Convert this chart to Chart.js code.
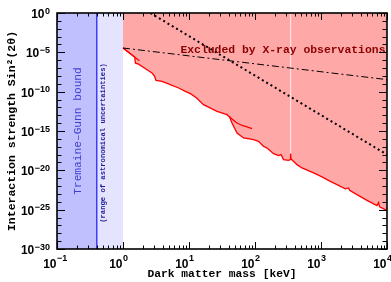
<!DOCTYPE html>
<html><head><meta charset="utf-8">
<script src="https://cdn.jsdelivr.net/npm/chart.js@4.4.0/dist/chart.umd.min.js"></script>
<style>html,body{margin:0;padding:0;background:#fff;}</style>
</head><body>
<canvas id="c" width="391" height="282" style="width:391px;height:282px;display:block"></canvas>
<script>
// ---- data ----
const boundaryMass = [1, 1.5, 1.547, 1.723, 2.31, 2.75, 3.01, 3.16, 3.90, 5.21, 6.96, 8.79, 10.5, 12.9, 16.6, 26.6, 37.6, 41.2, 44.8, 53.4, 67.2, 95.2, 113, 135, 152, 191, 228, 248, 271, 323, 340, 346, 352, 433, 515, 773, 1035, 1384, 1747, 2333, 2618, 2711, 3509, 4974, 7050, 7460, 7730, 9420, 10000];
const boundarySin = [3.57e-5, 2.56e-6, 4.18e-7, 3.12e-7, 6.24e-8, 2.38e-8, 8.8e-9, 2.73e-9, 2.04e-9, 7.76e-10, 2.95e-10, 1.09e-10, 5.57e-11, 1.73e-11, 2.23e-12, 3.14e-13, 1.20e-13, 6.1e-14, 1.05e-14, 5.65e-16, 1.31e-16, 7.96e-17, 4.84e-17, 1.12e-17, 7.0e-18, 1.32e-18, 7.4e-19, 9.9e-19, 2.29e-19, 1.86e-19, 2.29e-19, 1.32e-18, 2.81e-19, 5.3e-20, 2.02e-20, 4.68e-21, 1.45e-21, 4.0e-22, 1.52e-22, 4.33e-23, 5.8e-23, 2.88e-23, 8.2e-24, 1.54e-24, 3.27e-25, 7.9e-25, 2.24e-25, 1.01e-25, 7.6e-26];
const earlyMass = [1, 1.77];
const earlySin = [3.57e-5, 8.7e-7];
const lobeMass = [41.2, 53.4, 90.0];
const lobeSin = [6.1e-14, 1.05e-14, 2.0e-15];
const dashDotMass = [1, 10000];
const dashDotSin = [3.57e-5, 3.4e-9];
const dottedMass = [2.6, 10000];
const dottedSin = [1, 1e-18];
const tgBandMass = [0.1, 0.4];
const uncertBandMass = [0.4, 1];
const lineMass = [346, 346];
const lineSin = [1, 1.32e-18];

const xMajorTicks = [0.1, 1, 10, 100, 1000, 10000];
const xTickBase = ['10', '10', '10', '10', '10', '10'];
const xTickExp = ['\u22121', '0', '1', '2', '3', '4'];
const yMajorTicks = [1, 1e-5, 1e-10, 1e-15, 1e-20, 1e-25, 1e-30];
const yTickBase = ['10', '10', '10', '10', '10', '10', '10'];
const yTickExp = ['0', '\u22125', '\u221210', '\u221215', '\u221220', '\u221225', '\u221230'];

const excludedText = 'Excluded by X-ray observations';
const tgText = 'Tremaine\u2013Gunn bound';
const rangeText = '(range of astronomical uncertainties)';

// ---- helpers ----
const pts = (xs, ys) => xs.map((x, i) => ({x: x, y: ys[i]}));
const xAll = [];
for (let e = -1; e < 4; e++) for (let m = 1; m < 10; m++) xAll.push(m * Math.pow(10, e));
xAll.push(1e4);
const yAll = [];
for (let e = 0; e >= -30; e--) yAll.push(Math.pow(10, e));
const isMajor = (arr, v) => arr.some(a => Math.abs(Math.log10(a) - Math.log10(v)) < 1e-6);
const BASE_FONT = 'bold 12px "Liberation Sans"';
const EXP_FONT = 'bold 9px "Liberation Sans"';

const frameTicks = {
  id: 'frameTicks',
  afterDraw(chart) {
    const {ctx, chartArea: {left, right, top, bottom}, scales: {x, y}} = chart;
    ctx.save();
    // annotations
    ctx.fillStyle = '#8b0000';
    ctx.font = 'bold 11.4px "Liberation Mono"';
    ctx.textAlign = 'center'; ctx.textBaseline = 'middle';
    ctx.fillText(excludedText, x.getPixelForValue(265), y.getPixelForValue(2.2e-5));
    ctx.save();
    ctx.translate(x.getPixelForValue(0.21), y.getPixelForValue(1e-15));
    ctx.rotate(-Math.PI / 2);
    ctx.fillStyle = '#4040d0';
    ctx.font = '11.2px "Liberation Mono"';
    ctx.fillText(tgText, 0, 0);
    ctx.restore();
    ctx.save();
    ctx.translate(x.getPixelForValue(0.5), y.getPixelForValue(3e-17));
    ctx.rotate(-Math.PI / 2);
    ctx.fillStyle = '#1c1c98';
    ctx.font = 'bold 7.2px "Liberation Mono"';
    ctx.fillText(rangeText, 0, 0);
    ctx.restore();
    // tick labels (10 with superscript exponent)
    ctx.fillStyle = '#000';
    ctx.textBaseline = 'alphabetic';
    xMajorTicks.forEach((v, i) => {
      const px = x.getPixelForValue(v);
      ctx.font = BASE_FONT; ctx.textAlign = 'right';
      ctx.fillText(xTickBase[i], px - 0.5, bottom + 18.5);
      ctx.font = EXP_FONT; ctx.textAlign = 'left';
      ctx.fillText(xTickExp[i], px, bottom + 11.5);
    });
    yMajorTicks.forEach((v, i) => {
      const py = y.getPixelForValue(v);
      ctx.font = EXP_FONT; ctx.textAlign = 'right';
      const ew = ctx.measureText(yTickExp[i]).width;
      ctx.fillText(yTickExp[i], left - 7, py + 0.5);
      ctx.font = BASE_FONT;
      ctx.fillText(yTickBase[i], left - 7.5 - ew, py + 5);
    });
    // ticks
    ctx.strokeStyle = '#000'; ctx.lineWidth = 1;
    ctx.beginPath();
    xAll.forEach(v => {
      const px = Math.round(x.getPixelForValue(v)) + 0.5;
      const L = isMajor(xMajorTicks, v) ? 7 : 3.5;
      ctx.moveTo(px, bottom); ctx.lineTo(px, bottom - L);
      ctx.moveTo(px, top); ctx.lineTo(px, top + L);
    });
    yAll.forEach(v => {
      const py = Math.round(y.getPixelForValue(v)) + 0.5;
      const L = isMajor(yMajorTicks, v) ? 8 : 4.5;
      ctx.moveTo(left, py); ctx.lineTo(left + L, py);
      ctx.moveTo(right, py); ctx.lineTo(right - L, py);
    });
    ctx.stroke();
    ctx.lineWidth = 1.6;
    ctx.strokeRect(left, top, right - left, bottom - top);
    ctx.restore();
  }
};

new Chart(document.getElementById('c'), {
  type: 'line',
  data: {
    datasets: [
      {data: pts(tgBandMass, [1, 1]), fill: 'start', backgroundColor: '#c0c0ff', borderWidth: 0, pointRadius: 0, order: 10},
      {data: pts(uncertBandMass, [1, 1]), fill: 'start', backgroundColor: '#e4e4ff', borderWidth: 0, pointRadius: 0, order: 9},
      {data: pts([0.4, 0.4], [1e-30, 1]), fill: false, borderColor: '#3c3cff', borderWidth: 1.5, pointRadius: 0, order: 8},
      {data: pts(boundaryMass, boundarySin), fill: 'end', backgroundColor: '#ffa8a8', borderColor: '#ff0000', borderWidth: 1.3, pointRadius: 0, order: 5},
      {data: pts(lineMass, lineSin), fill: false, borderColor: '#ffe0e0', borderWidth: 1, pointRadius: 0, order: 7},
      {data: pts(earlyMass, earlySin), fill: false, borderColor: '#ff0000', borderWidth: 1.3, pointRadius: 0, order: 4},
      {data: pts(lobeMass, lobeSin), fill: false, borderColor: '#ff0000', borderWidth: 1.3, pointRadius: 0, cubicInterpolationMode: 'monotone', order: 4},
      {data: pts(dashDotMass, dashDotSin), fill: false, borderColor: '#000', borderWidth: 1, borderDash: [7, 3, 2, 3], pointRadius: 0, order: 2},
      {data: pts(dottedMass, dottedSin), fill: false, borderColor: '#000', borderWidth: 2, borderDash: [2, 3], pointRadius: 0, order: 1}
    ]
  },
  options: {
    responsive: false, animation: false, devicePixelRatio: 1,
    layout: {padding: {top: 13, right: 4, left: 0, bottom: 0}},
    plugins: {legend: {display: false}, tooltip: {enabled: false}, filler: {drawTime: 'beforeDatasetsDraw'}},
    scales: {
      x: {
        type: 'logarithmic', min: 0.1, max: 10000,
        grid: {display: false, drawTicks: false},
        border: {display: false},
        afterBuildTicks: s => { s.ticks = xMajorTicks.map(v => ({value: v})); },
        afterFit: s => { s.height = 33; s.paddingLeft = 0; s.paddingRight = 0; },
        ticks: {display: false},
        title: {display: true, text: 'Dark matter mass [keV]', color: '#000',
          font: {family: '"Liberation Mono"', weight: 'bold', size: 11.3}, padding: {top: 0, bottom: 1}}
      },
      y: {
        type: 'logarithmic', min: 1e-30, max: 1,
        grid: {display: false, drawTicks: false},
        border: {display: false},
        afterBuildTicks: s => { s.ticks = yMajorTicks.slice().reverse().map(v => ({value: v})); },
        afterFit: s => { s.width = 57; s.paddingTop = 0; s.paddingBottom = 0; },
        ticks: {display: false},
        title: {display: true, text: 'Interaction strength Sin\u00B2(2\u03B8)', color: '#000',
          font: {family: '"Liberation Mono"', weight: 'bold', size: 11.5}, padding: {top: 5, bottom: 0}}
      }
    }
  },
  plugins: [frameTicks]
});
</script>
</body></html>
